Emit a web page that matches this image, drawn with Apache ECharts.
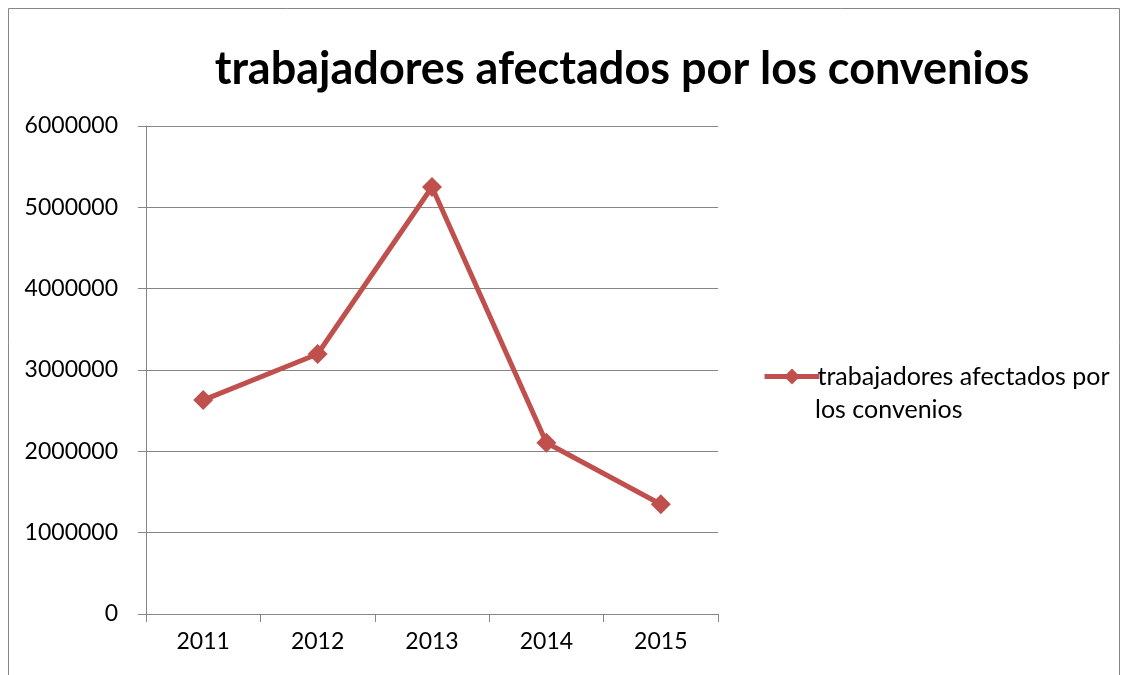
<!DOCTYPE html>
<html>
<head>
<meta charset="utf-8">
<script src="https://cdn.jsdelivr.net/npm/echarts@6/dist/echarts.min.js"></script>
<style>
  html, body { margin: 0; padding: 0; background: #fff; }
  #chart { width: 1128px; height: 675px; }
</style>
</head>
<body>
<div id="chart"></div>
<script>
// values
const years = ["2011", "2012", "2013", "2014", "2015"];
const workers = [2630000, 3197000, 5250000, 2106000, 1349000];
const seriesName = "trabajadores afectados por los convenios";

const chart = echarts.init(document.getElementById("chart"));
const font = "Lato, 'Open Sans', sans-serif";
const red = "#C0504D";
const gray = "#868686";

const option = {
  backgroundColor: "#fff",
  animation: false,
  title: {
    text: seriesName,
    left: 617,
    top: 42,
    textAlign: "center",
    textStyle: { fontFamily: font, fontSize: 45, fontWeight: "bold", color: "#000" }
  },
  legend: {
    left: 757,
    top: 359,
    itemWidth: 55,
    itemHeight: 20,
    itemGap: 4,
    formatter: () => "trabajadores afectados por",
    lineStyle: { width: 5 },
    textStyle: { fontFamily: font, fontSize: 25, color: "#000", padding: [0, 0, 0, -7] },
    data: [seriesName]
  },
  graphic: [
    {
      type: "rect",
      silent: true,
      shape: { x: 8.5, y: 8.5, width: 1111, height: 720 },
      style: { fill: "none", stroke: gray, lineWidth: 1 }
    },
    {
      type: "text",
      left: 815,
      top: 397,
      style: { text: "los convenios", font: "25px " + font, fill: "#000" }
    }
  ],
  grid: { left: 146, top: 126, width: 572, height: 488 },
  xAxis: {
    type: "category",
    data: years,
    boundaryGap: true,
    axisLine: { lineStyle: { color: gray, width: 1 } },
    axisTick: { show: true, length: 8, alignWithLabel: false, lineStyle: { color: gray } },
    axisLabel: { fontFamily: font, fontSize: 23, color: "#000", margin: 16 }
  },
  yAxis: {
    type: "value",
    min: 0,
    max: 6000000,
    interval: 1000000,
    axisLine: { show: true, lineStyle: { color: gray, width: 1 } },
    axisTick: { show: true, length: 8, lineStyle: { color: gray } },
    splitLine: { lineStyle: { color: gray, width: 1 } },
    axisLabel: {
      fontFamily: font, fontSize: 23, color: "#000", margin: 28,
      formatter: v => String(v)
    }
  },
  series: [
    {
      name: seriesName,
      type: "line",
      data: workers,
      symbol: "diamond",
      symbolSize: 20,
      lineStyle: { color: red, width: 5 },
      itemStyle: { color: red, borderWidth: 0 }
    }
  ]
};

chart.setOption(option);
</script>
</body>
</html>
